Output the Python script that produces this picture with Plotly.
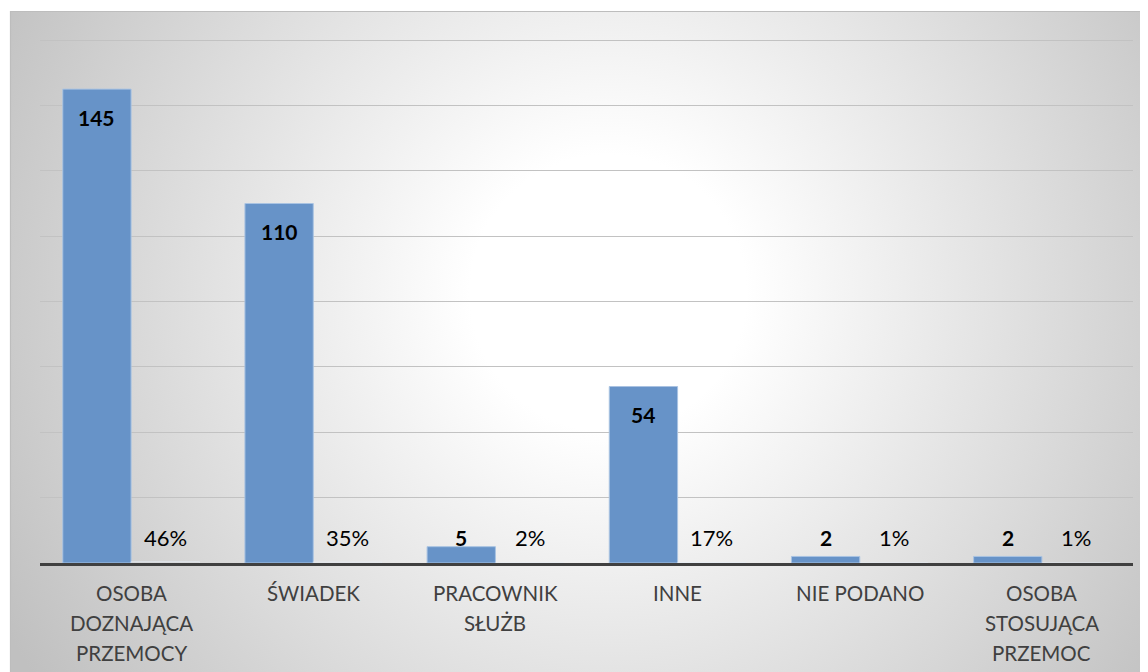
import base64
import plotly.graph_objects as go

# ---- data ----
categories = ["OSOBA\nDOZNAJĄCA\nPRZEMOCY", "ŚWIADEK", "PRACOWNIK\nSŁUŻB",
              "INNE", "NIE PODANO", "OSOBA\nSTOSUJĄCA\nPRZEMOC"]
counts = [145, 110, 5, 54, 2, 2]
percents = [46, 35, 2, 17, 1, 1]
y_ticks = [0, 20, 40, 60, 80, 100, 120, 140, 160]

# ---- style ----
# page body has an 8px margin, so the figure is drawn 8px smaller / shifted
W, H = 1140, 664
ML, MR, MT, MB = 32, 15, 3, 109
PW, PH = W - ML - MR, H - MT - MB
BAR_W = 0.375
FONT = "Lato"
CX, CY = 2, 3  # chart-area top-left inside the figure

svg = f"""<svg xmlns='http://www.w3.org/2000/svg' width='{W}' height='{H}'>
<defs><radialGradient id='g' gradientUnits='userSpaceOnUse' cx='600' cy='285' r='690'>
<stop offset='0' stop-color='#ffffff'/><stop offset='0.2' stop-color='#ffffff'/>
<stop offset='1' stop-color='#c0c0c0'/></radialGradient></defs>
<rect width='{W}' height='{H}' fill='#ffffff'/>
<rect x='{CX}' y='{CY}' width='{W-CX}' height='{H-CY}' fill='url(#g)'/>
<path d='M{CX+0.5},{H} V{CY+0.5} H{W}' stroke='#bdbdbd' stroke-width='1.2' fill='none'/>
</svg>"""
src = "data:image/svg+xml;base64," + base64.b64encode(svg.encode()).decode()

xs = list(range(len(categories)))

fig = go.Figure()
fig.add_trace(go.Bar(
    x=xs, y=counts, width=BAR_W, offset=-BAR_W,
    marker=dict(color="#6793C8", line=dict(color="#A9C3E2", width=1)),
    hoverinfo="skip", showlegend=False))
fig.add_trace(go.Bar(
    x=xs, y=[p / 100 for p in percents], width=BAR_W, offset=0,
    marker=dict(color="rgba(0,0,0,0)"),
    hoverinfo="skip", showlegend=False))

ann = []
for i, (c, p) in enumerate(zip(counts, percents)):
    if c >= 15:
        ann.append(dict(x=i - BAR_W / 2, y=c, yshift=-28, text=f"<b>{c}</b>",
                        font=dict(family=FONT, size=21, color="#000000")))
    else:
        ann.append(dict(x=i - BAR_W / 2, y=0, yshift=26, text=f"<b>{c}</b>",
                        font=dict(family=FONT, size=21, color="#000000")))
    ann.append(dict(x=i + BAR_W / 2, y=0, yshift=26, text=f"{p}%",
                    font=dict(family=FONT, size=22, color="#000000")))
for a in ann:
    a.update(xref="x", yref="y", showarrow=False, yanchor="middle")

for i, cat in enumerate(categories):
    for j, line in enumerate(cat.split("\n")):
        ann.append(dict(x=i, y=0, xref="x", yref="y", yshift=-30 * (j + 1),
                        yanchor="middle", showarrow=False, text=line,
                        font=dict(family=FONT, size=20.5, color="#404040")))

fig.update_layout(
    width=W, height=H,
    margin=dict(l=ML, r=MR, t=MT, b=MB, pad=0),
    paper_bgcolor="#ffffff", plot_bgcolor="rgba(0,0,0,0)",
    barmode="overlay",
    annotations=ann,
    images=[dict(source=src, xref="paper", yref="paper",
                 x=-ML / PW, y=1 + MT / PH, sizex=W / PW, sizey=H / PH,
                 xanchor="left", yanchor="top", sizing="stretch", layer="below")],
    xaxis=dict(range=[-0.5, len(categories) - 0.5], showticklabels=False,
               showgrid=False, zeroline=False, showline=True,
               linecolor="#404040", linewidth=3, ticks=""),
    yaxis=dict(range=[0, 168.9], tickvals=y_ticks, showticklabels=False,
               showgrid=True, gridcolor="#c2c2c2", gridwidth=1.3,
               zeroline=False, showline=False, ticks=""),
)

fig.write_html("out.html")
